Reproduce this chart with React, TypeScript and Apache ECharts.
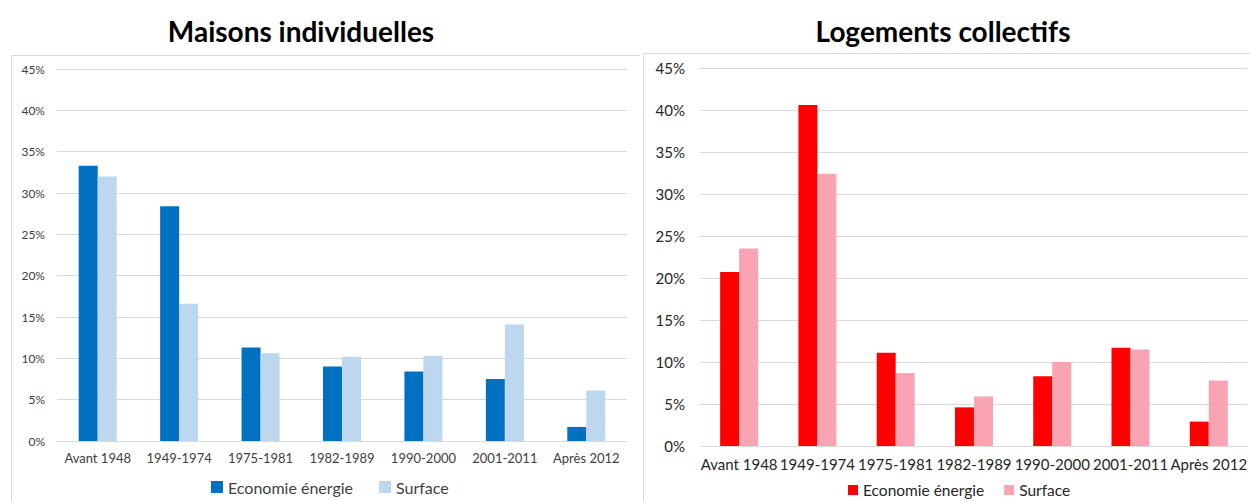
import React, { useEffect, useRef } from "react";
import * as echarts from "echarts";

const categories = ["Avant 1948", "1949-1974", "1975-1981", "1982-1989", "1990-2000", "2001-2011", "Après 2012"];
const seriesNames = ["Economie énergie", "Surface"];

const maisonsEconomie = [33.3, 28.4, 11.3, 9.0, 8.4, 7.5, 1.7];
const maisonsSurface = [32.0, 16.6, 10.6, 10.2, 10.3, 14.1, 6.1];

const collectifsEconomie = [20.7, 40.6, 11.1, 4.6, 8.3, 11.7, 2.9];
const collectifsSurface = [23.5, 32.4, 8.7, 5.9, 10.0, 11.5, 7.8];

const FONT = "Lato, 'Open Sans', sans-serif";

type Cfg = {
  title: string;
  titleX: number;
  economie: number[];
  surface: number[];
  colors: [string, string];
  grid: { left: number; right: number; top: number; bottom: number };
  panel: { x: number; y: number; width: number; height: number };
  axisFont: number;
  axisMargin: number;
  catFont: number;
  legendLeft: number;
  legendBottom: number;
  legendFont: number;
  legendIcon: number;
  legendGap: number;
  labelColor: string;
};

function makeOption(c: Cfg): any {
  return {
    animation: false,
    textStyle: { fontFamily: FONT },
    graphic: [
      {
        type: "rect",
        shape: { x: c.panel.x, y: c.panel.y, width: c.panel.width, height: c.panel.height },
        style: { fill: "none", stroke: "#D9D9D9", lineWidth: 1 },
        silent: true,
        z: -1,
      },
      {
        type: "text",
        x: c.titleX,
        y: 31,
        style: {
          text: c.title,
          fill: "#000",
          font: `bold 28px ${FONT}`,
          textAlign: "center",
          textVerticalAlign: "middle",
        },
      },
    ],
    legend: {
      data: seriesNames,
      left: c.legendLeft,
      bottom: c.legendBottom,
      icon: "rect",
      itemWidth: c.legendIcon,
      itemHeight: c.legendIcon,
      itemGap: c.legendGap,
      textStyle: { fontSize: c.legendFont, color: c.labelColor, fontFamily: FONT },
    },
    grid: { ...c.grid, containLabel: false },
    xAxis: {
      type: "category",
      data: categories,
      axisTick: { show: false },
      axisLine: { lineStyle: { color: "#D9D9D9" } },
      axisLabel: { fontSize: c.catFont, color: c.labelColor, margin: 10, interval: 0, fontFamily: FONT },
    },
    yAxis: {
      type: "value",
      min: 0,
      max: 45,
      interval: 5,
      axisLine: { show: false },
      axisTick: { show: false },
      splitLine: { lineStyle: { color: "#D9D9D9", width: 1 } },
      axisLabel: {
        fontSize: c.axisFont,
        color: c.labelColor,
        margin: c.axisMargin,
        formatter: "{value}%",
        fontFamily: FONT,
      },
    },
    series: [
      {
        name: seriesNames[0],
        type: "bar",
        data: c.economie,
        barWidth: 19,
        barGap: "0%",
        itemStyle: { color: c.colors[0] },
      },
      {
        name: seriesNames[1],
        type: "bar",
        data: c.surface,
        barWidth: 19,
        barGap: "0%",
        itemStyle: { color: c.colors[1] },
      },
    ],
  };
}

function Chart({ cfg, style }: { cfg: Cfg; style: React.CSSProperties }) {
  const ref = useRef<HTMLDivElement>(null);
  useEffect(() => {
    if (!ref.current) return;
    const chart = echarts.init(ref.current, undefined, { renderer: "svg" });
    chart.setOption(makeOption(cfg));
    return () => chart.dispose();
  }, []);
  return <div ref={ref} style={style} />;
}

const leftCfg: Cfg = {
  title: "Maisons individuelles",
  titleX: 301,
  economie: maisonsEconomie,
  surface: maisonsSurface,
  colors: ["#0070C0", "#BDD7EE"],
  grid: { left: 57, right: 13, top: 69, bottom: 60 },
  panel: { x: 11.5, y: 55.5, width: 629, height: 470 },
  axisFont: 12,
  axisMargin: 12,
  catFont: 13,
  legendLeft: 206,
  legendBottom: 1,
  legendFont: 16,
  legendIcon: 12,
  legendGap: 26,
  labelColor: "#404040",
};

const rightCfg: Cfg = {
  title: "Logements collectifs",
  titleX: 303,
  economie: collectifsEconomie,
  surface: collectifsSurface,
  colors: ["#FF0000", "#F9A3B3"],
  grid: { left: 60, right: 0, top: 68, bottom: 55 },
  panel: { x: 3.5, y: 53.5, width: 640, height: 470 },
  axisFont: 15,
  axisMargin: 15,
  catFont: 15,
  legendLeft: 203,
  legendBottom: -2,
  legendFont: 15.5,
  legendIcon: 10,
  legendGap: 20,
  labelColor: "#262626",
};

export default function App() {
  return (
    <div style={{ position: "absolute", left: 0, top: 0, width: 1250, height: 501, background: "#fff", overflow: "hidden" }}>
      <Chart cfg={leftCfg} style={{ position: "absolute", left: 0, top: 0, width: 640, height: 501 }} />
      <Chart cfg={rightCfg} style={{ position: "absolute", left: 640, top: 0, width: 610, height: 501 }} />
    </div>
  );
}
